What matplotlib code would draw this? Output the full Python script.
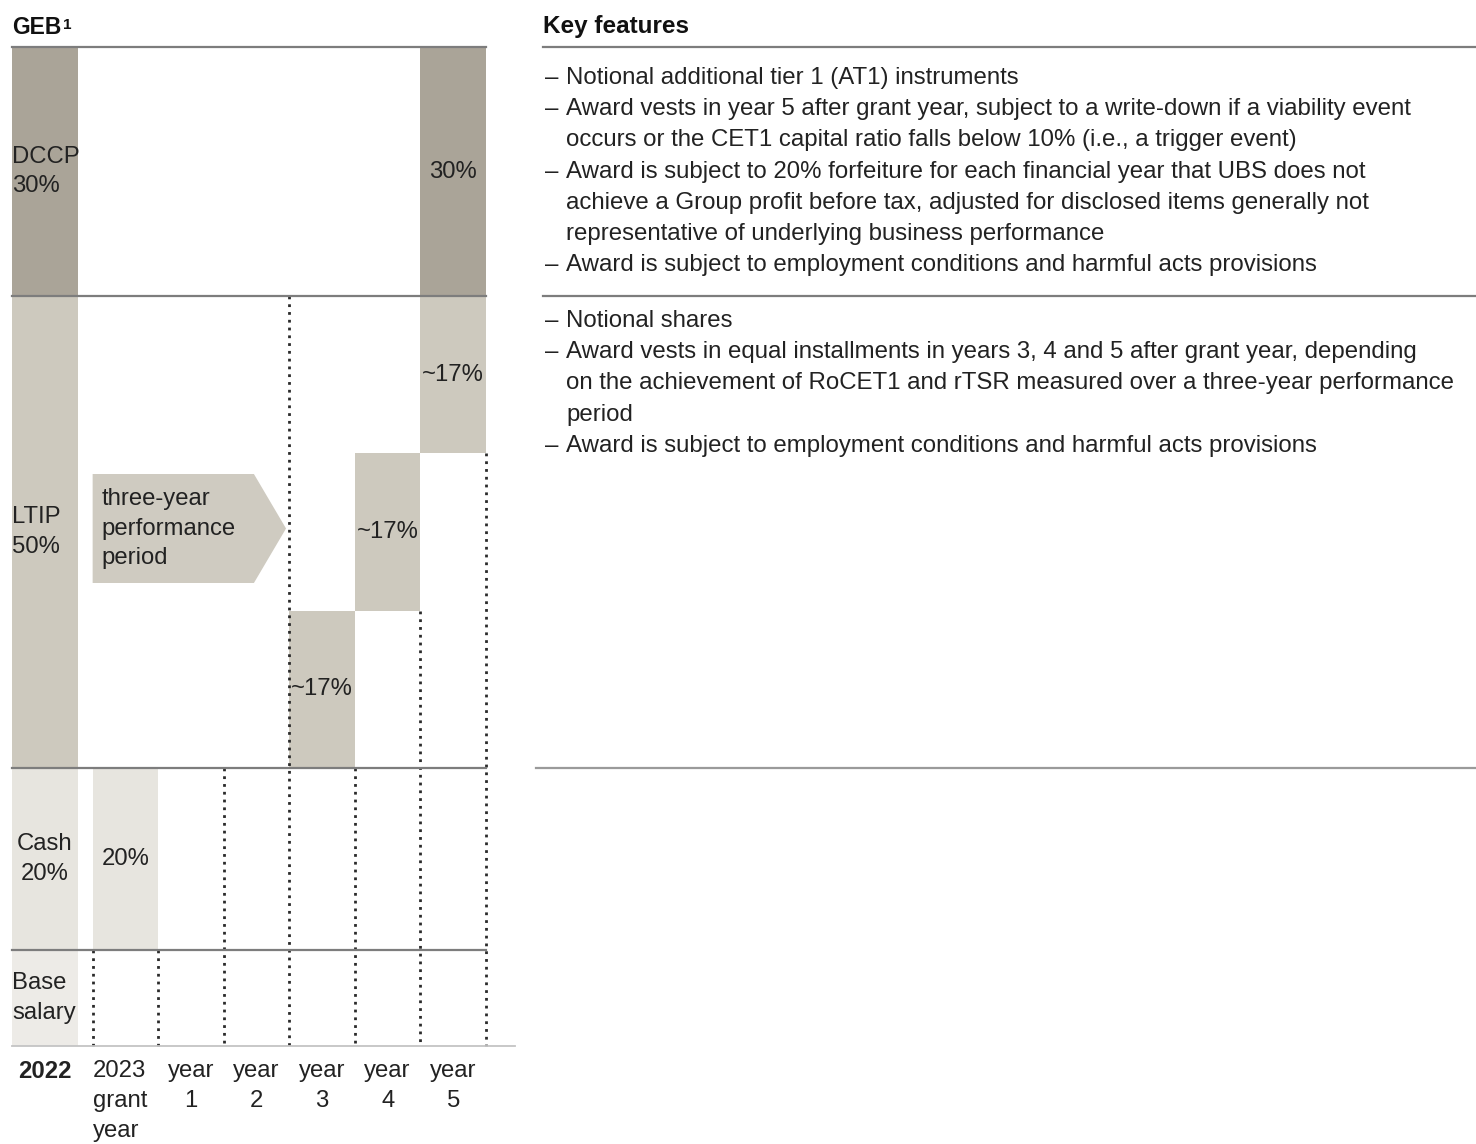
import matplotlib
matplotlib.use('Agg')
import matplotlib.pyplot as plt
from matplotlib.patches import Rectangle, Polygon
from matplotlib import font_manager as fm

# ---------------- data ----------------
components = ['DCCP', 'LTIP', 'Cash', 'Base salary']
component_share = [30, 50, 20, None]
component_labels = ['DCCP\n30%', 'LTIP\n50%', 'Cash\n20%', 'Base\nsalary']
timeline_labels = ['2022', '2023\ngrant\nyear', 'year\n1', 'year\n2', 'year\n3', 'year\n4', 'year\n5']
dccp_vest_cols = [6]
dccp_vest_labels = ['30%']
ltip_vest_cols = [6, 5, 4]          # top tranche first
ltip_vest_labels = ['~17%', '~17%', '~17%']
cash_vest_cols = [1]
cash_vest_labels = ['20%']
perf_period_label = 'three-year\nperformance\nperiod'
panel_title = 'GEB'
panel_footnote = '1'

features_title = 'Key features'
dccp_features = [
    ['Notional additional tier 1 (AT1) instruments'],
    ['Award vests in year 5 after grant year, subject to a write-down if a viability event',
     'occurs or the CET1 capital ratio falls below 10% (i.e., a trigger event)'],
    ['Award is subject to 20% forfeiture for each financial year that UBS does not',
     'achieve a Group profit before tax, adjusted for disclosed items generally not',
     'representative of underlying business performance'],
    ['Award is subject to employment conditions and harmful acts provisions'],
]
ltip_features = [
    ['Notional shares'],
    ['Award vests in equal installments in years 3, 4 and 5 after grant year, depending',
     'on the achievement of RoCET1 and rTSR measured over a three-year performance',
     'period'],
    ['Award is subject to employment conditions and harmful acts provisions'],
]

# ---------------- fonts ----------------
avail = {f.name for f in fm.fontManager.ttflist}
def pick(*names):
    for n in names:
        if n in avail:
            return n
    return 'DejaVu Sans'
REG = pick('Liberation Sans', 'Open Sans', 'DejaVu Sans')
NARROW = pick('Liberation Sans Narrow', 'Liberation Sans')
narrow_ok = NARROW == 'Liberation Sans Narrow'
body_fs = 18.0 if narrow_ok else 17.3

# ---------------- layout / style ----------------
W, H = 1476, 1144
fig = plt.figure(figsize=(W / 100, H / 100), dpi=100)
fig.patch.set_facecolor('white')

row_h = [249, 472, 182, 96]
row_top = [sum(row_h[:i]) for i in range(len(row_h) + 1)]
GAP = 0.23
def col_left(c):
    return 0.0 if c == 0 else c + GAP
XMAX = col_left(6) + 1
row_colors = ['#aaa498', '#cdc9be', '#e7e5df', '#edebe7']
txt_col = '#222222'
line_col = '#7d7d7d'
left_fs = 17.2
LS = 1.47

ax = fig.add_axes([12 / W, 1 - 1046 / H, 474 / W, 999 / H])
ax.set_xlim(0, XMAX)
ax.set_ylim(row_top[-1], 0)
ax.axis('off')

# label column cells
for i, (lab, colr) in enumerate(zip(component_labels, row_colors)):
    y0, y1 = row_top[i], row_top[i + 1]
    ax.add_patch(Rectangle((0, y0), 1, y1 - y0, facecolor=colr, edgecolor='none', zorder=1))
    ha = 'center' if components[i] == 'Cash' else 'left'
    xx = 0.5 if ha == 'center' else 0.0
    ax.text(xx, (y0 + y1) / 2, lab, ha=ha, va='center', fontsize=left_fs, family=REG,
            color=txt_col, linespacing=LS, zorder=5)

block_bottoms = {}
# DCCP vesting
for c, lab in zip(dccp_vest_cols, dccp_vest_labels):
    y0, y1 = row_top[0], row_top[1]
    ax.add_patch(Rectangle((col_left(c), y0), 1, y1 - y0, facecolor=row_colors[0], edgecolor='none', zorder=1))
    ax.text(col_left(c) + 0.5, (y0 + y1) / 2, lab, ha='center', va='center', fontsize=left_fs,
            family=REG, color=txt_col, zorder=5)
    block_bottoms[c] = max(block_bottoms.get(c, 0), y1)
# LTIP tranches
n = len(ltip_vest_cols)
th = row_h[1] / n
for k, (c, lab) in enumerate(zip(ltip_vest_cols, ltip_vest_labels)):
    y0 = row_top[1] + k * th
    y1 = y0 + th
    ax.add_patch(Rectangle((col_left(c), y0), 1, th, facecolor=row_colors[1], edgecolor='none', zorder=1))
    ax.text(col_left(c) + 0.5, (y0 + y1) / 2, lab, ha='center', va='center', fontsize=left_fs,
            family=REG, color=txt_col, zorder=5)
    block_bottoms[c] = max(block_bottoms.get(c, 0), y1)
# Cash
for c, lab in zip(cash_vest_cols, cash_vest_labels):
    y0, y1 = row_top[2], row_top[3]
    ax.add_patch(Rectangle((col_left(c), y0), 1, y1 - y0, facecolor=row_colors[2], edgecolor='none', zorder=1))
    ax.text(col_left(c) + 0.5, (y0 + y1) / 2, lab, ha='center', va='center', fontsize=left_fs,
            family=REG, color=txt_col, zorder=5)
    block_bottoms[c] = max(block_bottoms.get(c, 0), y1)

# performance period arrow
ay0, ay1 = 427, 536
ax_l = col_left(1)
ax_tip = col_left(4) - 0.05
ax_b = ax_tip - 0.49
ax.add_patch(Polygon([(ax_l, ay0), (ax_b, ay0), (ax_tip, (ay0 + ay1) / 2), (ax_b, ay1), (ax_l, ay1)],
                     closed=True, facecolor='#cfcbc1', edgecolor='none', zorder=2))
ax.text(ax_l + 0.14, (ay0 + ay1) / 2, perf_period_label, ha='left', va='center', fontsize=left_fs,
        family=REG, color=txt_col, linespacing=LS, zorder=5)

# dotted vertical lines
dots = {
    col_left(1): row_top[3],
    col_left(1) + 1: row_top[3],
    col_left(2) + 1: row_top[2],
    col_left(3) + 1: row_top[1],
    col_left(4) + 1: block_bottoms[4],
    col_left(5) + 1: block_bottoms[5],
    col_left(6) + 1: block_bottoms[6],
}
for x, ys in dots.items():
    ax.plot([x, x], [ys, row_top[-1]], color='#2a2a2a', lw=2.0, ls=(0, (1, 1.8)), zorder=3,
            solid_capstyle='butt', dash_capstyle='butt', clip_on=False)

# horizontal separators
for yv in row_top[:-1]:
    ax.plot([0, XMAX], [yv, yv], color=line_col, lw=1.6, zorder=4, clip_on=False)
ax.plot([0, XMAX + 0.44], [row_top[-1], row_top[-1]], color='#c4c4c4', lw=1.3, zorder=4, clip_on=False)

# timeline labels
TY = 1013
for c, lab in enumerate(timeline_labels):
    if c == 0:
        ax.text(0.5, TY, lab, ha='center', va='top', fontsize=left_fs, family=REG,
                weight='bold', color=txt_col, clip_on=False)
    elif c == 1:
        ax.text(col_left(1), TY, lab, ha='left', va='top', fontsize=left_fs, family=REG,
                color=txt_col, linespacing=LS, clip_on=False)
    else:
        ax.text(col_left(c) + 0.5, TY, lab, ha='center', va='top', fontsize=left_fs, family=REG,
                color=txt_col, linespacing=LS, clip_on=False)

# panel title
t = fig.text(12 / W, 1 - 28 / H, panel_title, ha='left', va='center', fontsize=16.5,
             family=NARROW if narrow_ok else REG, weight='bold', color='#111111')
fig.canvas.draw()
ax.annotate(panel_footnote, xy=(1.0, 0.92), xycoords=t, xytext=(1, 0), textcoords='offset points',
            ha='left', va='top', fontsize=11, family=REG, weight='bold', color='#111111')

# ---------------- right panel ----------------
rx = fig.add_axes([0, 0, 1, 1])
rx.set_xlim(0, W)
rx.set_ylim(H, 0)
rx.axis('off')
rx.patch.set_alpha(0)

rx.text(543, 27, features_title, ha='left', va='center', fontsize=17.5,
        family=NARROW if narrow_ok else REG, weight='bold', color='#111111')
rx.plot([543, W], [47, 47], color=line_col, lw=1.6)
rx.plot([543, W], [296, 296], color=line_col, lw=1.6)
rx.plot([536, W], [768, 768], color='#9a9a9a', lw=1.6)

LINE = 31.2
def draw_group(items, y_start):
    y = y_start
    for item in items:
        for j, ln in enumerate(item):
            if j == 0:
                rx.text(545, y, '–', ha='left', va='center', fontsize=body_fs, family=NARROW, color=txt_col)
            rx.text(566, y, ln, ha='left', va='center', fontsize=body_fs, family=NARROW, color=txt_col)
            y += LINE

draw_group(dccp_features, 78)
draw_group(ltip_features, 321)

fig.savefig('out.png', dpi=100, facecolor='white')
